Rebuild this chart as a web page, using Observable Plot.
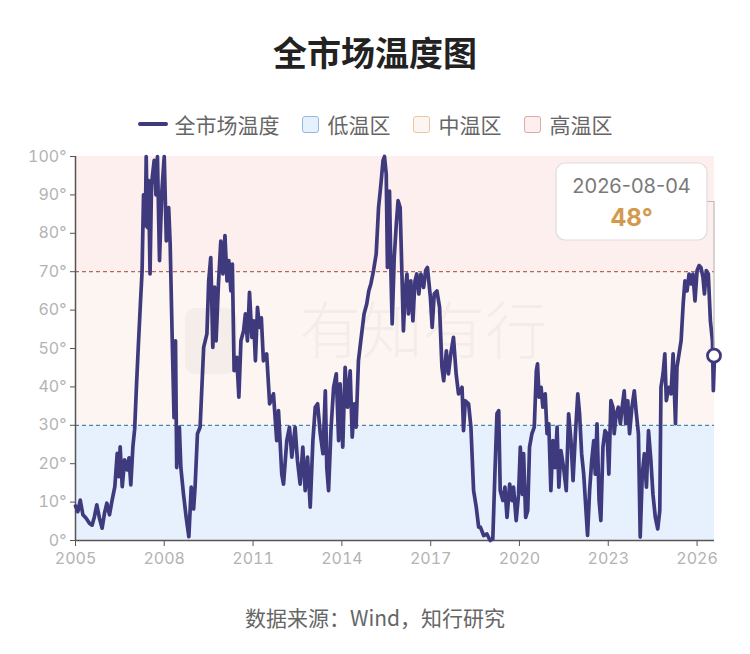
<!DOCTYPE html>
<html>
<head>
<meta charset="utf-8">
<script src="https://cdn.jsdelivr.net/npm/d3@7"></script>
<script src="https://cdn.jsdelivr.net/npm/@observablehq/plot@0.6"></script>
<style>
  html, body { margin: 0; padding: 0; background: #fff; }
  body { width: 750px; height: 654px; position: relative; overflow: hidden;
         font-family: Inter, "Noto Sans CJK SC", sans-serif; }
  #title { position: absolute; left: 0; width: 750px; top: 27px; height: 50px; line-height: 50px;
           text-align: center; font-size: 34px; font-weight: 700; color: #222;
           font-family: "Noto Sans CJK SC", sans-serif; }
  #legend { position: absolute; left: 0; width: 750px; top: 110px; height: 28px;
            display: flex; justify-content: center; align-items: center; gap: 0;
            font-family: "Noto Sans CJK SC", sans-serif; font-size: 21px; color: #666; }
  .item { display: flex; align-items: center; margin: 0 11px; }
  .sw-line { width: 30px; height: 4.5px; background: #3f3a7d; border-radius: 2px; margin-right: 7px; }
  .sw-box { width: 17px; height: 17px; border-radius: 3px; margin-right: 9px; box-sizing: border-box; }
  #chart { position: absolute; left: 0; top: 140px; }
  #caption { position: absolute; left: 0; width: 750px; top: 602px; height: 30px; line-height: 30px;
             text-align: center; font-size: 21px; color: #666;
             font-family: "Noto Sans CJK SC", sans-serif; }
</style>
</head>
<body>
<div id="title"></div>
<div id="legend"></div>
<div id="chart"></div>
<div id="caption"></div>
<script>
// ---------- data ----------
const titleText = "全市场温度图";
const captionText = "数据来源：Wind，知行研究";
const seriesName = "全市场温度";
const zoneNames = ["低温区", "中温区", "高温区"];
const zoneBounds = [0, 30, 70, 100];
const xTickYears = [2005, 2008, 2011, 2014, 2017, 2020, 2023, 2026];
const yTicks = [0, 10, 20, 30, 40, 50, 60, 70, 80, 90, 100];
const latestLabel = "2026-08-04";
const latestValue = 48;

// decimal-year positions of readings
const years = [
2005.00,2005.08,2005.16,2005.25,2005.36,2005.47,2005.56,2005.64,2005.72,2005.81,2005.90,2005.98,
2006.06,2006.15,2006.24,2006.33,2006.41,2006.47,2006.51,2006.58,2006.66,2006.74,2006.81,2006.87,2006.94,
2007.00,2007.06,2007.12,2007.19,2007.25,2007.30,2007.36,2007.39,2007.43,2007.47,2007.52,2007.57,2007.66,2007.72,2007.77,2007.84,2007.92,
2008.00,2008.07,2008.15,2008.20,2008.27,2008.33,2008.38,2008.42,2008.51,2008.56,2008.65,2008.74,2008.83,2008.91,2008.99,
2009.04,2009.12,2009.21,2009.33,2009.44,2009.50,2009.57,2009.64,2009.70,2009.75,2009.83,2009.91,2009.98,
2010.05,2010.12,2010.18,2010.25,2010.30,2010.36,2010.45,2010.52,2010.59,2010.68,2010.74,2010.81,2010.88,2010.96,
2011.02,2011.08,2011.15,2011.22,2011.28,2011.35,2011.46,2011.56,2011.69,2011.80,2011.86,2011.97,
2012.03,2012.14,2012.23,2012.31,2012.42,2012.50,2012.59,2012.68,2012.76,2012.84,2012.93,
2013.02,2013.10,2013.18,2013.27,2013.36,2013.44,2013.49,2013.55,2013.63,2013.72,2013.81,2013.89,2013.94,
2014.03,2014.11,2014.19,2014.28,2014.35,2014.42,2014.48,2014.56,2014.64,2014.75,2014.84,2014.91,2014.98,
2015.07,2015.16,2015.24,2015.32,2015.39,2015.44,2015.50,2015.54,2015.61,2015.66,2015.70,2015.77,2015.84,2015.90,2015.97,
2016.03,2016.08,2016.14,2016.20,2016.25,2016.33,2016.40,2016.47,2016.53,2016.60,2016.67,2016.76,2016.83,2016.89,2016.99,
2017.05,2017.12,2017.21,2017.30,2017.38,2017.44,2017.53,2017.60,2017.68,2017.77,2017.86,2017.94,
2018.06,2018.11,2018.17,2018.28,2018.36,2018.45,2018.54,2018.62,2018.68,2018.79,2018.90,
2019.01,2019.10,2019.17,2019.24,2019.30,2019.35,2019.44,2019.51,2019.58,2019.67,2019.75,2019.80,2019.89,2019.97,
2020.03,2020.10,2020.14,2020.21,2020.28,2020.34,2020.42,2020.50,2020.57,2020.61,2020.66,2020.73,2020.79,2020.87,2020.93,2020.99,
2021.06,2021.13,2021.20,2021.27,2021.33,2021.40,2021.49,2021.58,2021.66,2021.74,2021.81,2021.89,2021.97,
2022.03,2022.10,2022.17,2022.24,2022.30,2022.37,2022.44,2022.51,2022.56,2022.62,2022.69,2022.75,2022.82,2022.89,2022.96,
2023.02,2023.09,2023.16,2023.20,2023.27,2023.34,2023.41,2023.47,2023.54,2023.59,2023.66,2023.72,2023.80,2023.88,2023.95,
2024.02,2024.08,2024.15,2024.22,2024.29,2024.36,2024.44,2024.51,2024.59,2024.67,2024.74,2024.78,2024.85,2024.91,2024.96,
2025.04,2025.12,2025.19,2025.27,2025.32,2025.39,2025.46,2025.53,2025.59,2025.66,2025.73,2025.80,2025.86,2025.93,
2026.00,2026.07,2026.13,2026.20,2026.25,2026.31,2026.38,2026.45,2026.52,2026.55,2026.589
];
const temps = [
9,7.5,10.5,6.7,5.8,4.5,4,6.2,9.3,5.8,3.2,7.1,
9.7,6.7,10.6,14,22.7,16.6,24.4,14,21,18.4,21.5,14.5,24.4,
29,40,50,61,70,90,82,100,81.5,93.7,69.4,92.8,99,90,100,72.9,91,
100,78,86.7,77.2,52,32,52,19,29.5,19,12,6,1,13.9,8.2,
13.9,27.8,29.5,50.3,53.8,67.6,73.7,50.3,66,52,66.8,78,69.4,
79.4,67.6,72.9,65,72,44.2,47.7,37.3,52,54.6,59,52,64.6,52.9,
57.2,46.8,60.7,55.5,58,46.8,48.6,35.6,38.2,26,33.8,17.3,
14.7,26,29.5,21.7,29.5,20.8,14.7,24.3,13,21.7,8.7,
26,34.7,35.6,27.8,22.6,39,19,13,28.6,39.9,43.4,26,40.8,
24.3,45.1,34.7,44.2,26.9,35.6,29.5,46.8,52,59,61.6,65,66.8,
70.3,74.6,86.7,92.8,98.9,100,95.4,71.1,91,69.4,56.4,73.7,82.4,88.5,86.7,
69.4,54.6,65,69.4,59,67.6,57.2,67.6,69.4,64.2,69.4,65.9,70.3,71.1,63.3,
55.5,64.2,65,60.7,45.1,41.6,49.4,43.4,48.6,52.9,43.4,38.2,
39.9,28.6,36.4,35.6,29.5,13,8.7,3.5,3.5,1.3,1.7,
0,0.4,17.3,33,33.8,13,10.4,13.9,6,14.7,10.4,13.9,5.2,12,
24.3,12,22.6,6,7.8,24.3,27.8,29.5,44.2,46,37.3,39.9,34.7,38.2,27.8,30.4,
13,26,19,29.5,13.9,23.4,19,13,33,26,15.6,27.8,38.2,
33,22.6,17.3,8.7,1.3,13,20.8,26,17.3,30.4,10.4,5.2,24.3,28.6,27.8,
17.3,36.4,34.7,27.8,33,34.7,30.4,34.7,39,30.4,36.4,27.8,34.7,39,33,
27.8,0.9,17.3,22.6,13.9,28.6,20.8,12,6,3,7.8,39.9,43.4,48.6,36.4,
39.9,38.2,48.6,30.4,45.1,48.6,52,61.6,67.6,65,69.4,66.8,69.4,62.4,
70.3,71.6,71.1,68.5,64.2,70.3,69.4,57.2,52,39,48
];

// ---------- build ----------
const toDate = y => {
  const yr = Math.floor(y);
  const start = Date.UTC(yr, 0, 1), end = Date.UTC(yr + 1, 0, 1);
  return new Date(start + (y - yr) * (end - start));
};
const data = years.map((y, i) => ({date: toDate(y), value: temps[i]}));
const lastDate = new Date(latestLabel + "T00:00:00Z");
data[data.length - 1].date = lastDate;
const xDomain = [new Date(Date.UTC(2005, 0, 1)), lastDate];
const xTicks = xTickYears.map(y => new Date(Date.UTC(y, 0, 1)));

const lineColor = "#3f3a7d";
const zoneFill = ["#e7f1fd", "#fcf5f1", "#fcefee"];
const zoneStroke = ["#93b9e0", "#efc699", "#e0a8a6"];
const zones = zoneNames.map((n, i) => ({name: n, y1: zoneBounds[i], y2: zoneBounds[i + 1]}));

document.getElementById("title").textContent = titleText;
document.getElementById("caption").textContent = captionText;
const legend = document.getElementById("legend");
legend.innerHTML =
  `<div class="item"><div class="sw-line"></div><span>${seriesName}</span></div>` +
  zones.map((z, i) => `<div class="item"><div class="sw-box" style="background:${zoneFill[i]};border:1.5px solid ${zoneStroke[i]}"></div><span>${z.name}</span></div>`).join("");

const plot = Plot.plot({
  width: 750,
  height: 440,
  marginLeft: 75,
  marginRight: 36,
  marginTop: 16,
  marginBottom: 40,
  style: {fontSize: "16px", fontFamily: "Inter, 'Noto Sans CJK SC', sans-serif", background: "transparent"},
  x: {type: "utc", domain: xDomain},
  y: {domain: [0, 100]},
  marks: [
    Plot.rect(zones, {y1: "y1", y2: "y2", fill: (d, i) => zoneFill[i]}),
    Plot.text(["有知有行"], {frameAnchor: "middle", dx: 28, dy: -14, fontSize: 62, fill: "#000", fillOpacity: 0.035,
      fontFamily: "'Noto Sans CJK SC'", fontWeight: 300}),
    Plot.ruleY([70], {stroke: "#b8675d", strokeDasharray: "4,3", strokeWidth: 1.3}),
    Plot.ruleY([30], {stroke: "#4d86a8", strokeDasharray: "4,3", strokeWidth: 1.3}),
    Plot.axisY({ticks: yTicks, tickFormat: d => d + "°", tickSize: 5, tickPadding: 4,
      stroke: "#555", fill: "#b3b3b3", fontSize: 16}),
    Plot.axisX({ticks: xTicks, tickFormat: d3.utcFormat("%Y"), tickSize: 6, tickPadding: 6,
      stroke: "#555", fill: "#b3b3b3", fontSize: 16}),
    Plot.ruleX([xDomain[0]], {stroke: "#555", strokeWidth: 1.5}),
    Plot.ruleY([0], {stroke: "#555", strokeWidth: 1.5}),
    Plot.line(data, {x: "date", y: "value", stroke: lineColor, strokeWidth: 3.7, strokeLinejoin: "round"})
  ]
});
document.getElementById("chart").appendChild(plot);

// ---------- latest-value callout, positioned via the plot's scales ----------
const sx = plot.scale("x"), sy = plot.scale("y");
const px = sx.apply(lastDate), py = sy.apply(latestValue);
const topY = sy.apply(100);
const svg = d3.select(plot);
// faint logo watermark
const frameMidY = (sy.apply(0) + topY) / 2;
svg.append("rect").attr("x", sx.apply(xDomain[0]) + 110).attr("y", frameMidY - 40)
  .attr("width", 52).attr("height", 66).attr("rx", 10).attr("fill", "#000").attr("fill-opacity", 0.03);

const boxW = 151, boxH = 77;
const boxR = px - 7, boxT = topY + 7;
const midY = boxT + boxH / 2;
svg.append("path")
  .attr("d", `M${boxR},${midY}H${px}V${py - 7}`)
  .attr("fill", "none").attr("stroke", "#bbb").attr("stroke-width", 1.2);
svg.append("rect").attr("x", boxR - boxW).attr("y", boxT).attr("width", boxW).attr("height", boxH)
  .attr("rx", 9).attr("fill", "#fff").attr("stroke", "#ddd").attr("stroke-width", 1.2);
svg.append("text").attr("x", boxR - boxW / 2).attr("y", boxT + 25).attr("text-anchor", "middle")
  .attr("dominant-baseline", "middle").attr("font-size", 20).attr("fill", "#7a7a7a")
  .attr("font-family", "Inter, sans-serif").text(latestLabel);
svg.append("text").attr("x", boxR - boxW / 2).attr("y", boxT + 56).attr("text-anchor", "middle")
  .attr("dominant-baseline", "middle").attr("font-size", 24).attr("font-weight", 700).attr("fill", "#d39a4e")
  .attr("font-family", "Inter, sans-serif").text(latestValue + "°");
svg.append("circle").attr("cx", px).attr("cy", py).attr("r", 6.5)
  .attr("fill", "#fff").attr("stroke", lineColor).attr("stroke-width", 2.8);
</script>
</body>
</html>
